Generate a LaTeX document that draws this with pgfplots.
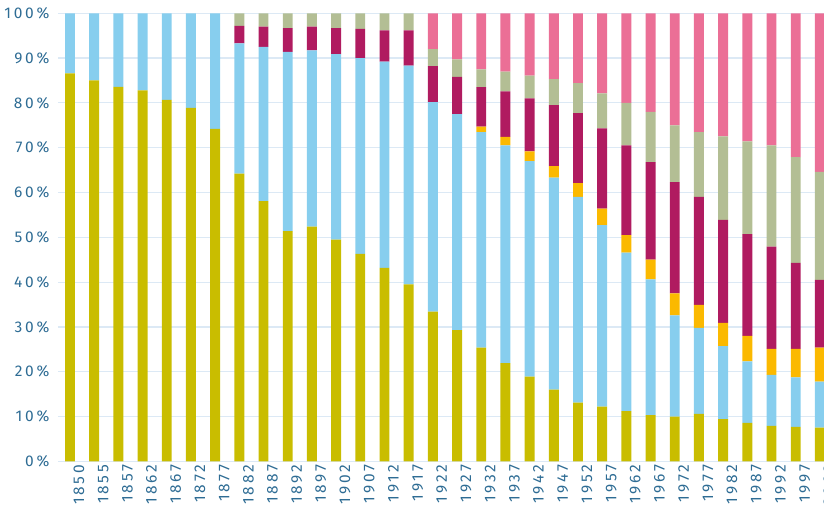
\documentclass[border=0pt]{standalone}
\usepackage{fontspec}
\setmainfont[LetterSpace=18]{Fira Sans}
\usepackage{pgfplots}
\usepackage{pgfplotstable}
\pgfplotsset{compat=1.18}

\definecolor{colO}{RGB}{201,189,0}
\definecolor{colB}{RGB}{135,206,238}
\definecolor{colR}{RGB}{251,185,0}
\definecolor{colM}{RGB}{176,27,96}
\definecolor{colS}{RGB}{179,190,148}
\definecolor{colP}{RGB}{235,111,150}
\definecolor{gridblue}{RGB}{220,233,245}
\definecolor{labelblue}{RGB}{46,108,148}

% shares per year, bottom to top
\pgfplotstableread{
x  o     b     r     m     s     p
0  86.6  13.4  0     0     0     0
1  85.0  15.0  0     0     0     0
2  83.6  16.4  0     0     0     0
3  82.8  17.2  0     0     0     0
4  80.7  19.3  0     0     0     0
5  78.9  21.1  0     0     0     0
6  74.2  25.8  0     0     0     0
7  64.2  29.1  0     3.9   2.8   0
8  58.1  34.4  0     4.5   3.0   0
9  51.4  40.0  0     5.3   3.3   0
10 52.4  39.3  0     5.3   3.0   0
11 49.5  41.4  0     5.8   3.3   0
12 46.3  43.7  0     6.5   3.5   0
13 43.2  46.0  0     7.0   3.8   0
14 39.5  48.8  0     7.9   3.8   0
15 33.4  46.8  0     8.0   3.8   8.0
16 29.3  48.2  0     8.3   3.9   10.3
17 25.4  48.1  1.2   8.8   4.0   12.5
18 21.9  48.6  1.9   10.2  4.4   13.0
19 18.9  48.1  2.2   11.8  5.1   13.9
20 16.0  47.3  2.6   13.6  5.8   14.7
21 13.1  45.9  3.1   15.6  6.7   15.6
22 12.2  40.5  3.7   17.9  7.8   17.9
23 11.2  35.4  3.9   20.0  9.5   20.0
24 10.3  30.3  4.4   21.8  11.2  22.0
25 10.0  22.6  4.9   24.8  12.7  25.0
26 10.6  19.2  5.1   24.1  14.5  26.5
27 9.4   16.3  5.2   23.0  18.6  27.5
28 8.6   13.7  5.7   22.7  20.7  28.6
29 7.9   11.4  5.8   22.8  22.6  29.5
30 7.7   11.05 6.35  19.2  23.6  32.1
31 7.5   10.3  7.6   15.1  24.1  35.4
}\shares

\begin{document}
\begin{tikzpicture}[x=1pt,y=1pt]
\begin{axis}[
  at={(0,0)}, anchor=south west,
  scale only axis, width=766pt, height=448pt,
  ybar stacked, bar width=0.41,
  xmin=-0.496, xmax=31.17, ymin=0, ymax=100,
  axis line style={draw=none},
  ymajorgrids, grid style={color=gridblue, line width=1.2pt},
  ytick={0,10,...,100},
  yticklabels={0\%,10\%,20\%,30\%,40\%,50\%,60\%,70\%,80\%,90\%,100\%},
  xtick={0,...,31},
  xticklabels={1850,1855,1857,1862,1867,1872,1877,1882,1887,1892,1897,1902,1907,1912,1917,1922,1927,1932,1937,1942,1947,1952,1957,1962,1967,1972,1977,1982,1987,1992,1997,2002},
  major tick length=0,
  tick label style={font=\fontsize{15.5}{15.5}\selectfont, text=labelblue},
  yticklabel style={xshift=-5pt},
  xticklabel style={rotate=90, anchor=east, yshift=-9pt},
]
  \addplot[fill=colO, draw=none] table[x=x, y=o] {\shares};
  \addplot[fill=colB, draw=none] table[x=x, y=b] {\shares};
  \addplot[fill=colR, draw=none] table[x=x, y=r] {\shares};
  \addplot[fill=colM, draw=none] table[x=x, y=m] {\shares};
  \addplot[fill=colS, draw=none] table[x=x, y=s] {\shares};
  \addplot[fill=colP, draw=none] table[x=x, y=p] {\shares};
\end{axis}
\pgfresetboundingbox
\path[use as bounding box] (-58,-47.7) rectangle (766,461.3);
\end{tikzpicture}
\end{document}
